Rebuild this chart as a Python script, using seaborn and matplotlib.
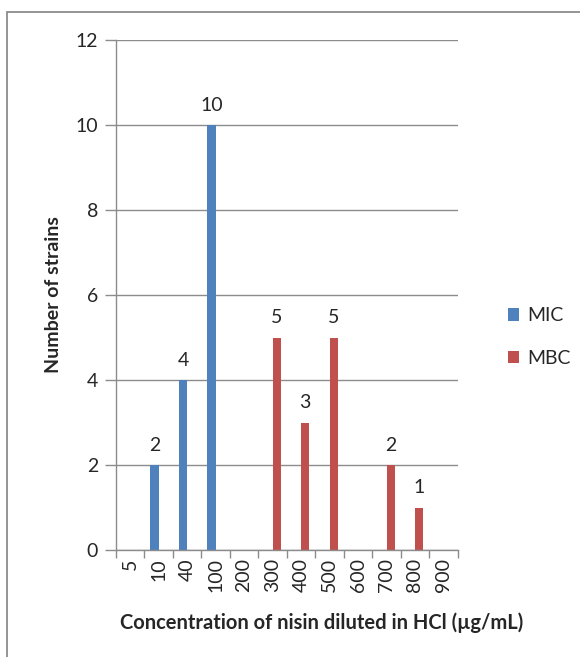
import pandas as pd
import matplotlib.pyplot as plt
import seaborn as sns
from matplotlib.patches import Rectangle

sns.set_theme(style='white')
plt.rcParams['font.family'] = ['Lato', 'DejaVu Sans']

concentrations = ['5', '10', '40', '100', '200', '300', '400', '500', '600', '700', '800', '900']
mic_counts = [0, 2, 4, 10, 0, 0, 0, 0, 0, 0, 0, 0]
mbc_counts = [0, 0, 0, 0, 0, 5, 3, 5, 0, 2, 1, 0]

data_df = pd.DataFrame(data={"concentration": concentrations * 2,
                             "type": ['MIC'] * len(concentrations) + ['MBC'] * len(concentrations),
                             "strains": mic_counts + mbc_counts})

fig = plt.figure(figsize=(5.8, 6.57), dpi=100)
fig.patches.append(Rectangle((7 / 580, -0.1), 1.2, 1 - 12 / 657 + 0.1, transform=fig.transFigure,
                             fill=False, edgecolor='#8c8c8c', linewidth=1.3))
ax = fig.add_axes([116 / 580, 1 - 550 / 657, 341.7 / 580, 510 / 657])

plot = sns.barplot(x="concentration", y="strains", hue="type", data=data_df, order=concentrations,
                   hue_order=['MIC', 'MBC'], palette=['#4F81BD', '#C0504D'], width=0.58,
                   saturation=1, linewidth=0, ax=ax, legend=True)

for c in plot.containers:
    vals = c.datavalues
    plot.bar_label(c, labels=[str(int(v)) if v > 0 else '' for v in vals], padding=8, fontsize=14)

ax.set_ylim(0, 12)
ax.set_yticks(range(0, 13, 2))
ax.set_xlim(-0.5, len(concentrations) - 0.5)
ax.grid(axis='y', color='#8c8c8c', linewidth=1)
ax.set_axisbelow(True)
for s in ['top', 'right']:
    ax.spines[s].set_visible(False)
for s in ['left', 'bottom']:
    ax.spines[s].set_color('#8c8c8c')
    ax.spines[s].set_linewidth(1)

ax.set_xticks(range(len(concentrations)))
ax.set_xticklabels(concentrations, rotation=90, fontsize=14)
ax.set_xticks([i - 0.5 for i in range(len(concentrations) + 1)], minor=True)
ax.tick_params(axis='x', which='major', length=0, pad=6)
ax.tick_params(axis='x', which='minor', length=6, color='#8c8c8c', width=1, direction='out', bottom=True)
ax.tick_params(axis='y', length=8, color='#8c8c8c', width=1, direction='out', left=True, labelsize=14, pad=5)

ax.set_ylabel("Number of strains", fontsize=14, fontweight='bold')
ax.yaxis.set_label_coords(-54 / 341.7, 0.5)
ax.set_xlabel("Concentration of nisin diluted in HCl (µg/mL)", fontsize=14.5, fontweight='bold')
ax.xaxis.set_label_coords((322 - 116) / 341.7, -62 / 510)

handles, labels = ax.get_legend_handles_labels()
ax.legend(handles, labels, loc='center left', bbox_to_anchor=(490 / 580, 1 - 337 / 657),
          bbox_transform=fig.transFigure, frameon=False, fontsize=14, handlelength=0.6,
          handleheight=0.6, handletextpad=0.4, labelspacing=1.3)

plt.savefig('out.png', format='png', dpi=100)
